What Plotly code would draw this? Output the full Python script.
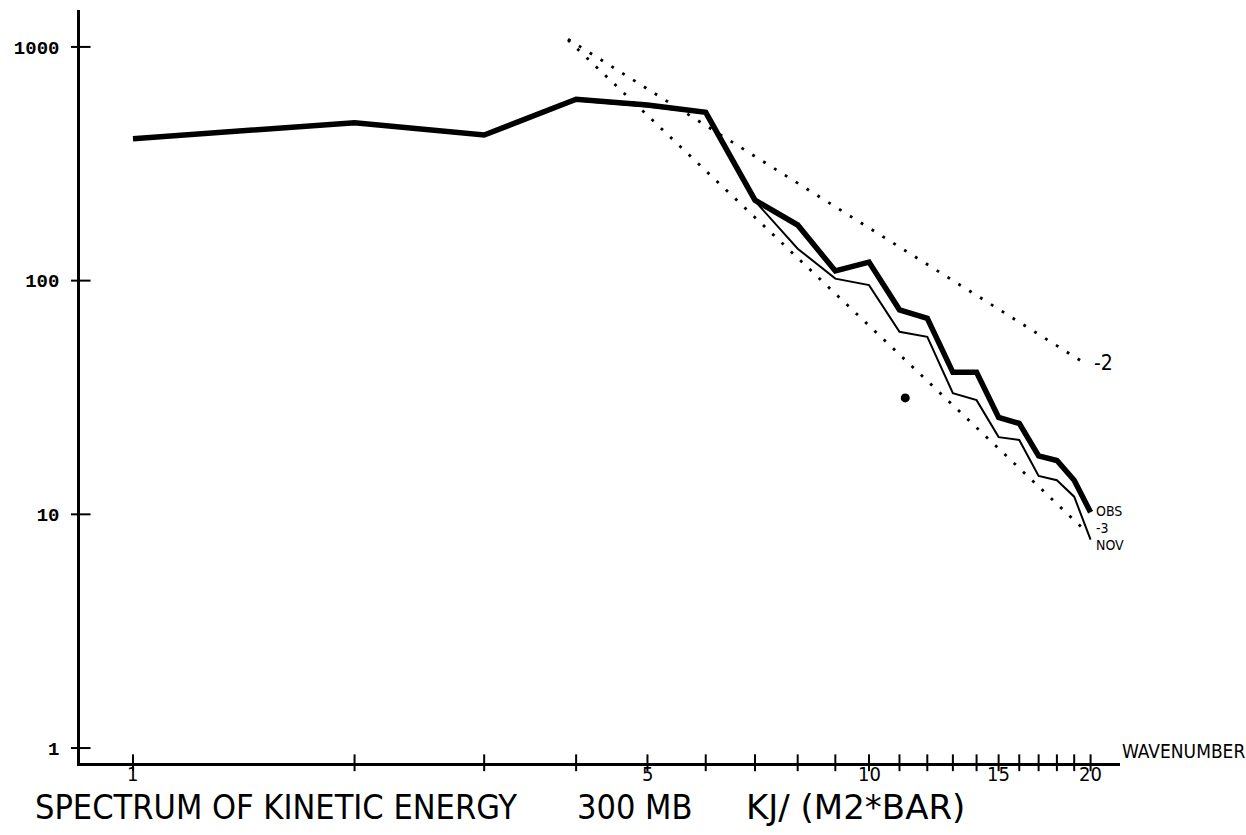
import math
import plotly.graph_objects as go

# Kinetic energy spectrum at 300 mb, wavenumbers 1..20
wavenumber = list(range(1, 21))
obs = [405, 474, 420, 597, 564, 525, 221, 173, 110, 120,
       75, 69, 40.5, 40.5, 26, 24.5, 17.8, 17, 14, 10.2]
nov = [405, 474, 420, 590, 556, 520, 219, 137, 102, 95.7,
       60.4, 57.5, 33, 30.8, 21.4, 20.8, 14.6, 14.0, 11.9, 7.8]

# Reference slopes (n^-2 and n^-3), given by their end points
ref_n = [3.9, 19.6]
ref_m2 = [1080, 44.5]
ref_m3 = [1070, 8.6]

# Isolated plotted point
extra_n = [11.2]
extra_e = [31.5]

x_ticks_all = list(range(1, 21))
x_tick_labels = [1, 5, 10, 15, 20]
y_ticks = [1, 10, 100, 1000]

x_range = [-0.072, 1.341]
y_range = [-0.064, 3.158]

NARROW = "DejaVu Sans Condensed, Liberation Sans Narrow, Liberation Sans, sans-serif"
WIDE = "DejaVu Sans, Liberation Sans, sans-serif"
MONO = "Liberation Mono, DejaVu Sans Mono, monospace"

fig = go.Figure()

# reference dotted lines
for ys in (ref_m2, ref_m3):
    fig.add_trace(go.Scatter(
        x=ref_n, y=ys, mode="lines",
        line=dict(color="black", width=2.8, dash="2.8px,10px"),
        showlegend=False, hoverinfo="skip"))

fig.add_trace(go.Scatter(
    x=wavenumber, y=nov, mode="lines",
    line=dict(color="black", width=2), showlegend=False, name="NOV"))
fig.add_trace(go.Scatter(
    x=wavenumber, y=obs, mode="lines",
    line=dict(color="black", width=5.5), showlegend=False, name="OBS"))

fig.add_trace(go.Scatter(
    x=extra_n, y=extra_e, mode="markers",
    marker=dict(color="black", size=9), showlegend=False))

# tick marks crossing the axes (kept just inside the range so they are drawn)
y_bottom = 10 ** (y_range[0] + 0.001)
x_left = 10 ** (x_range[0] + 0.001)
fig.add_trace(go.Scatter(
    x=x_ticks_all, y=[y_bottom] * len(x_ticks_all), mode="markers",
    marker=dict(symbol="line-ns-open", size=12, color="black",
                line=dict(color="black", width=2)),
    cliponaxis=False, showlegend=False, hoverinfo="skip"))
fig.add_trace(go.Scatter(
    x=[x_left] * len(y_ticks), y=y_ticks, mode="markers",
    marker=dict(symbol="line-ew-open", size=14, color="black",
                line=dict(color="black", width=2)),
    cliponaxis=False, showlegend=False, hoverinfo="skip"))

annotations = []
lx = math.log10(wavenumber[-1])
label_font = dict(family=NARROW, size=14, color="black")
# curve end labels
annotations.append(dict(x=lx, y=math.log10(obs[-1]) + 0.006, text="OBS", showarrow=False,
                        xanchor="left", xshift=3, font=label_font))
annotations.append(dict(x=lx, y=math.log10(obs[-1]) - 0.066, text="-3", showarrow=False,
                        xanchor="left", xshift=3, font=label_font))
annotations.append(dict(x=lx, y=math.log10(nov[-1]) - 0.022, text="NOV", showarrow=False,
                        xanchor="left", xshift=3, font=label_font))
annotations.append(dict(x=math.log10(ref_n[-1]), y=math.log10(ref_m2[-1]), text="-2", showarrow=False,
                        xanchor="left", xshift=8, font=dict(family=NARROW, size=21, color="black")))
annotations.append(dict(x=1.0, y=0.0, xref="paper", yref="paper", text="WAVENUMBER",
                        showarrow=False, xanchor="left", yanchor="middle", yshift=12,
                        font=dict(family=NARROW, size=19, color="black")))

# x tick labels just under the axis line
for v in x_tick_labels:
    annotations.append(dict(x=math.log10(v), y=0.0, xref="x", yref="paper", text=str(v),
                            showarrow=False, xanchor="center", yanchor="top", yshift=3,
                            font=dict(family=NARROW, size=20, color="black")))

# title pieces along the bottom
for px, txt, fam in ((33, "SPECTRUM OF KINETIC ENERGY", NARROW), (575, "300 MB", NARROW),
                     (744, "KJ/ (M2*BAR)", WIDE)):
    annotations.append(dict(x=(px - 80) / 1040, y=(763 - 807) / 753, xref="paper", yref="paper",
                            text=txt, showarrow=False, xanchor="left", yanchor="middle",
                            font=dict(family=fam, size=34, color="black")))

fig.update_layout(
    width=1246, height=835,
    margin=dict(l=80, r=126, t=10, b=72),
    paper_bgcolor="white", plot_bgcolor="white",
    annotations=annotations,
    xaxis=dict(type="log", range=x_range, showticklabels=False, ticks="", showgrid=False,
               zeroline=False, showline=True, linecolor="black", linewidth=2.5),
    yaxis=dict(type="log", range=y_range, tickvals=y_ticks,
               ticktext=[str(v) for v in y_ticks], ticks="", showgrid=False,
               zeroline=False, showline=True, linecolor="black", linewidth=2.5,
               ticklabelstandoff=14,
               tickfont=dict(family=MONO, size=19, color="black", weight="bold")),
)

fig.write_html("out.html")
